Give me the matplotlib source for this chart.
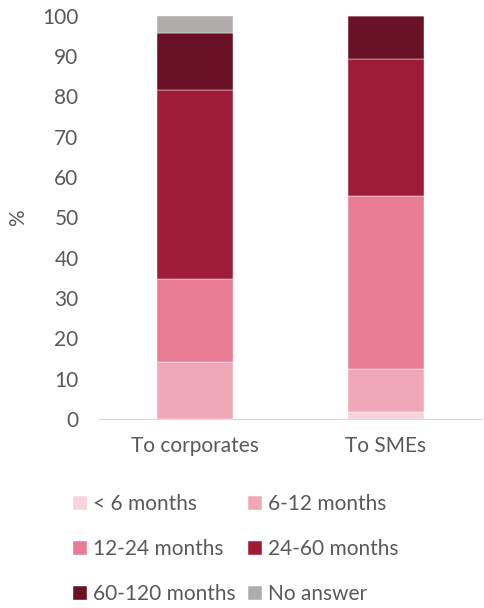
import numpy as np
import matplotlib.pyplot as plt

categories = ['To corporates', 'To SMEs']
series_names = ['< 6 months', '6-12 months', '12-24 months', '24-60 months', '60-120 months', 'No answer']
lt6 = [0.0, 1.7]
m6_12 = [14.1, 10.7]
m12_24 = [20.6, 42.9]
m24_60 = [46.8, 33.9]
m60_120 = [14.2, 10.8]
no_answer = [4.3, 0.0]
colors = ['#F8D3DC', '#F0A8B8', '#E87C93', '#9E1C38', '#6B1126', '#B0ACAC']

plt.rcParams['font.family'] = ['Lato', 'DejaVu Sans']
txt = '#595959'

fig = plt.figure(figsize=(4.85, 6.08), dpi=100)
ax = fig.add_axes([0.205, 0.311, 0.788, 0.663])

x = np.arange(len(categories))
bottom = np.zeros(len(categories))
handles = []
for name, vals, col in zip(series_names, [lt6, m6_12, m12_24, m24_60, m60_120, no_answer], colors):
    b = ax.bar(x, vals, 0.4, bottom=bottom, color=col, label=name, edgecolor='white', linewidth=0.3)
    handles.append(b)
    bottom += np.array(vals)

ax.set_xlim(-0.5, 1.5)
ax.set_ylim(0, 100)
ax.set_yticks(np.arange(0, 101, 10))
ax.set_xticks(x)
ax.set_xticklabels(categories)
ax.tick_params(axis='both', length=0, labelsize=15, colors=txt)
ax.tick_params(axis='y', pad=15)
ax.tick_params(axis='x', pad=12)
for s in ['top', 'right', 'left']:
    ax.spines[s].set_visible(False)
ax.spines['bottom'].set_color('#D9D9D9')
ax.set_ylabel('%', fontsize=15, color=txt, labelpad=10)

# legend row-major in 2 columns
order = [0, 2, 4, 1, 3, 5]
fig.legend([handles[i] for i in order], [series_names[i] for i in order],
           ncol=2, loc='upper left', bbox_to_anchor=(0.151, 0.187), frameon=False,
           fontsize=15, labelcolor=txt, handlelength=0.65, handleheight=0.65,
           handletextpad=0.3, columnspacing=0.6, labelspacing=1.2,
           borderaxespad=0, borderpad=0)

fig.savefig('out.png', dpi=100)
